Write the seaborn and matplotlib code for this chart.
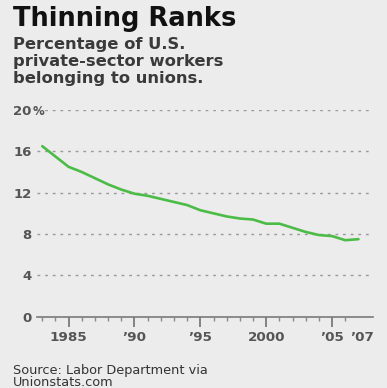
import matplotlib
matplotlib.use('Agg')
import matplotlib.pyplot as plt
import matplotlib.transforms as mtrans
import seaborn as sns
import pandas as pd

# Data
years = [1983, 1984, 1985, 1986, 1987, 1988, 1989, 1990, 1991, 1992, 1993,
         1994, 1995, 1996, 1997, 1998, 1999, 2000, 2001, 2002, 2003, 2004,
         2005, 2006, 2007]
share = [16.5, 15.5, 14.5, 14.0, 13.4, 12.8, 12.3, 11.9, 11.7, 11.4, 11.1,
         10.8, 10.3, 10.0, 9.7, 9.5, 9.4, 9.0, 9.0, 8.6, 8.2, 7.9,
         7.8, 7.4, 7.5]
x_ticks = [1985, 1990, 1995, 2000, 2005, 2007]
x_labels = ['1985', '\u201990', '\u201995', '2000', '\u201905', '\u201907']
y_ticks = [0, 4, 8, 12, 16, 20]
y_labels = ['0', '4', '8', '12', '16', '20']

df = pd.DataFrame({'year': years, 'share': share})

sns.set_style('white')
plt.rcParams['font.family'] = ['DejaVu Sans']

bg = '#ececec'
lab = '#555555'
fig = plt.figure(figsize=(3.87, 3.88), dpi=100, facecolor=bg)
ax = fig.add_axes([0.0956, 0.1838, 0.868, 0.5327], facecolor=bg)

sns.lineplot(data=df, x='year', y='share', ax=ax, color='#4cbb47',
             linewidth=1.9, legend=False)

ax.set_xlim(1982.6, 2008.1)
ax.set_ylim(0, 20)
ax.set_xlabel('')
ax.set_ylabel('')

for s in ['top', 'right', 'left']:
    ax.spines[s].set_visible(False)
ax.spines['bottom'].set_color('#7a7a7a')
ax.spines['bottom'].set_linewidth(1.2)

ax.set_yticks(y_ticks)
ax.set_yticklabels(y_labels, fontsize=9.5, color=lab, fontweight='bold')
ax.tick_params(axis='y', left=False, length=0, pad=4)
ax.yaxis.grid(True, linestyle=(0, (2, 3.5)), color='#9a9a9a', linewidth=1.0)
ax.set_axisbelow(True)
for gl in ax.yaxis.get_gridlines():
    if gl.get_ydata()[0] == 0:
        gl.set_visible(False)

ax.set_xticks(x_ticks)
ax.set_xticklabels(x_labels, fontsize=9.7, color=lab, fontweight='bold')
ax.set_xticks(years, minor=True)
ax.tick_params(axis='x', which='major', bottom=True, length=7, width=1.3,
               color='#7a7a7a', direction='out', pad=3)
ax.tick_params(axis='x', which='minor', bottom=True, length=3, width=1.0,
               color='#8a8a8a', direction='out')
ax.xaxis.get_major_ticks()[-1].tick1line.set_visible(False)
# nudge the '07 label right, as in the original
last = ax.get_xticklabels()[-1]
last.set_transform(last.get_transform() +
                   mtrans.ScaledTranslation(4 / 100, 0, fig.dpi_scale_trans))

# percent sign hanging after the top label
ax.annotate('%', xy=(0, 20), xycoords=('axes fraction', 'data'),
            xytext=(-3.5, 0), textcoords='offset points', ha='left',
            va='center_baseline', fontsize=8.5, color=lab, fontweight='bold')

fig.text(0.034, 0.933, 'Thinning Ranks', fontsize=18.5, fontweight='bold',
         color='#111111', ha='left', va='baseline')
sub = ['Percentage of U.S.', 'private-sector workers', 'belonging to unions.']
for i, line in enumerate(sub):
    fig.text(0.034, 0.873 - i * 0.043, line, fontsize=11.8, fontweight='bold',
             color='#3a3a3a', ha='left', va='baseline')
fig.text(0.034, 0.037, 'Source: Labor Department via', fontsize=9.3,
         color='#333333', ha='left', va='baseline')
fig.text(0.034, 0.004, 'Unionstats.com', fontsize=9.3,
         color='#333333', ha='left', va='baseline')

fig.savefig('out.png', dpi=100, facecolor=bg)
